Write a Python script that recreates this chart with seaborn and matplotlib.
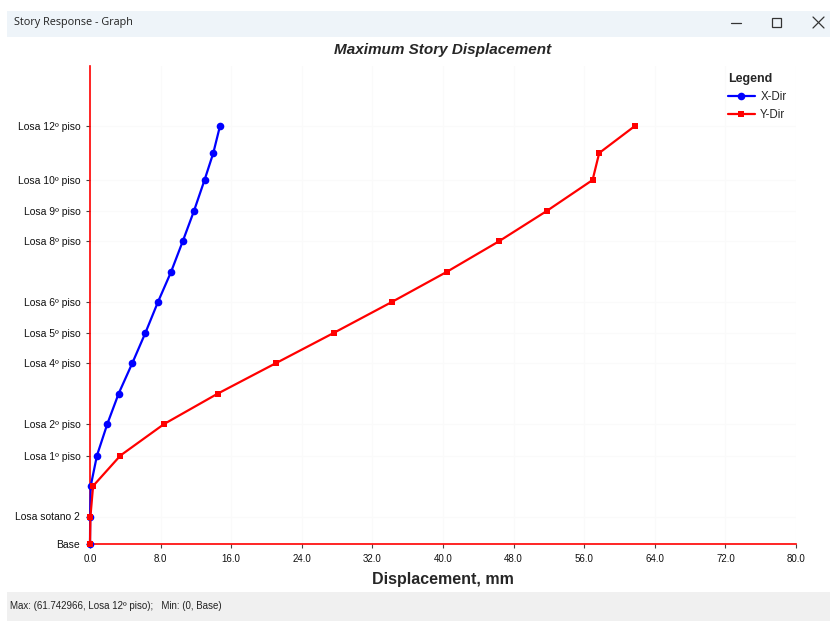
import matplotlib
matplotlib.use("Agg")
import matplotlib.pyplot as plt
import seaborn as sns
import pandas as pd
from matplotlib.patches import Rectangle
from matplotlib.lines import Line2D

# --------------------------
# Data
# --------------------------
stories = ["Base", "Losa sotano 2", "Losa sotano 1", "Losa 1º piso", "Losa 2º piso",
           "Losa 3º piso", "Losa 4º piso", "Losa 5º piso", "Losa 6º piso", "Losa 7º piso",
           "Losa 8º piso", "Losa 9º piso", "Losa 10º piso", "Losa 11º piso", "Losa 12º piso"]
elevation = [0.0, 2.75, 5.8, 8.85, 12.0, 15.05, 18.1, 21.1, 24.2, 27.2,
             30.25, 33.3, 36.4, 39.1, 41.8]
x_dir = [0.0, 0.02, 0.08, 0.79, 1.96, 3.25, 4.8, 6.27, 7.7, 9.18,
         10.5, 11.78, 12.98, 13.97, 14.73]
y_dir = [0.0, 0.05, 0.35, 3.45, 8.4, 14.5, 21.1, 27.6, 34.2, 40.4,
         46.3, 51.75, 56.95, 57.7, 61.742966]
labeled = ["Base", "Losa sotano 2", "Losa 1º piso", "Losa 2º piso", "Losa 4º piso",
           "Losa 5º piso", "Losa 6º piso", "Losa 8º piso", "Losa 9º piso",
           "Losa 10º piso", "Losa 12º piso"]
x_ticks = [0, 8, 16, 24, 32, 40, 48, 56, 64, 72, 80]

df = pd.DataFrame({"story": stories, "elev": elevation, "X-Dir": x_dir, "Y-Dir": y_dir})

sns.set_style("white")
plt.rcParams["font.family"] = ["Liberation Sans", "DejaVu Sans"]

fig = plt.figure(figsize=(8.3, 6.21), dpi=100)
fig.patch.set_facecolor("white")
W, H = 830, 621

# --------------------------
# Window chrome: title bar and status bar
# --------------------------
fig.patches.append(Rectangle((7 / W, 1 - 37 / H), 1 - 7 / W, 26 / H, transform=fig.transFigure,
                             facecolor="#eef4f9", edgecolor="none", zorder=0))
fig.patches.append(Rectangle((7 / W, 0), 1 - 7 / W, 29 / H, transform=fig.transFigure,
                             facecolor="#f0f0f0", edgecolor="none", zorder=0))
fig.text(14 / W, 1 - 23 / H, "Story Response - Graph", fontsize=7.8, va="center",
         family=["Open Sans", "DejaVu Sans"], color="#222222")
fig.lines.append(Line2D([731 / W, 741 / W], [1 - 23 / H] * 2, transform=fig.transFigure,
                        color="#333333", lw=0.9))
fig.patches.append(Rectangle((772 / W, 1 - 27 / H), 9 / W, 9 / H, transform=fig.transFigure,
                             facecolor="none", edgecolor="#333333", lw=0.9))
fig.lines.append(Line2D([813 / W, 824 / W], [1 - 17 / H, 1 - 28 / H], transform=fig.transFigure,
                        color="#333333", lw=0.9))
fig.lines.append(Line2D([813 / W, 824 / W], [1 - 28 / H, 1 - 17 / H], transform=fig.transFigure,
                        color="#333333", lw=0.9))
fig.text(10 / W, 1 - 606 / H, "Max: (61.742966, Losa 12º piso);   Min: (0, Base)",
         fontsize=7, va="center", color="#222222")

# --------------------------
# Plot
# --------------------------
ax = fig.add_axes([90 / W, 1 - 544 / H, 706 / W, 478 / H])
sns.lineplot(data=df, x="X-Dir", y="elev", sort=False, estimator=None, ax=ax,
             color="#0000ff", lw=1.6, marker="o", markersize=5.5, markeredgewidth=0,
             label="X-Dir", clip_on=False, zorder=3)
sns.lineplot(data=df, x="Y-Dir", y="elev", sort=False, estimator=None, ax=ax,
             color="#ff0000", lw=1.6, marker="s", markersize=5, markeredgewidth=0,
             label="Y-Dir", clip_on=False, zorder=4)

ax.set_xlim(0, 80)
ax.set_ylim(0, 47.8)
ax.set_xticks(x_ticks)
ax.set_xticklabels([f"{v:.1f}" for v in x_ticks], fontsize=7, color="#111111")
lab_elev = [elevation[stories.index(s)] for s in labeled]
ax.set_yticks(lab_elev)
ax.set_yticklabels(labeled, fontsize=7.5, color="#111111")
ax.tick_params(axis="both", length=3, width=0.8, color="#444444", pad=4, left=True, bottom=True)

ax.grid(True, color="#fafafa", lw=0.8)
for side in ["top", "right"]:
    ax.spines[side].set_visible(False)
for side in ["left", "bottom"]:
    ax.spines[side].set_color("#ff0000")
    ax.spines[side].set_linewidth(1.2)

ax.set_xlabel("Displacement, mm", fontsize=11.5, fontweight="bold", labelpad=6)
ax.set_ylabel("")
fig.text(443 / W, 1 - 50 / H, "Maximum Story Displacement", fontsize=11,
         fontweight="bold", fontstyle="italic", ha="center", va="center")

leg = ax.legend(title="Legend", loc="upper left", bbox_to_anchor=(0.889, 1.008), frameon=False,
                fontsize=8.3, title_fontproperties={"weight": "bold", "size": 9},
                handlelength=2.3, handletextpad=0.5, labelspacing=0.55, alignment="left")

fig.savefig("out.png", dpi=100)
